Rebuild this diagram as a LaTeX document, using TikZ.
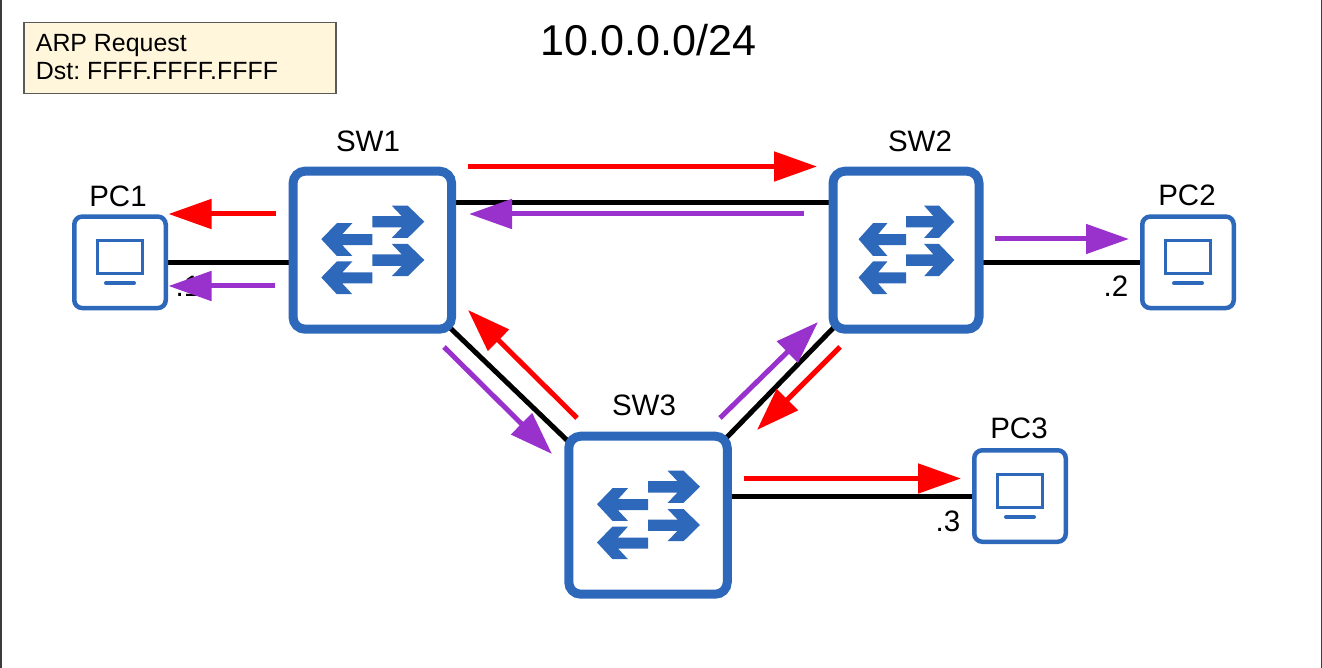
\documentclass[tikz,border=0pt]{standalone}
\usepackage{fontspec}
\setmainfont{Liberation Sans}
\usetikzlibrary{arrows.meta,backgrounds}
\definecolor{swblue}{HTML}{2E68BA}
\definecolor{notefill}{HTML}{FFF6DC}
\definecolor{notedraw}{HTML}{5A5A5A}
\definecolor{framec}{HTML}{3C3C3C}
\definecolor{redflow}{HTML}{FF0000}
\definecolor{purpleflow}{HTML}{9932CC}
\tikzset{
  x=1pt,y=-1pt,
  sw/.style={draw=swblue,line width=9pt,fill=white,rounded corners=12pt,inner sep=0pt,minimum height=158pt},
  pc/.style={draw=swblue,line width=4.5pt,fill=white,rounded corners=8pt,inner sep=0pt,minimum width=91.5pt,minimum height=91.5pt},
  lbl/.style={font=\fontsize{29.5}{32}\selectfont,inner sep=0pt,text=black},
  addr/.style={font=\fontsize{29.5}{32}\selectfont,inner sep=0pt,text=black},
  link/.style={draw=black,line width=5pt},
  flow/.style={line width=5pt,-{Triangle[length=43pt,width=29pt]}},
  redf/.style={flow,draw=redflow,color=redflow},
  purplef/.style={flow,draw=purpleflow,color=purpleflow},
  pics/swicon/.style={code={
    \foreach \d in {0,38.3}{
      \fill[swblue] (-51,-11+\d) -- (-35.5,-27+\d) -- (-20,-27+\d) -- (-30,-16+\d) -- (0,-16+\d) -- (0,-5+\d) -- (-30,-5+\d) -- (-20,5.7+\d) -- (-35.5,5.7+\d) -- cycle;
      \fill[swblue] (52,-28.5+\d) -- (35.5,-44.5+\d) -- (19.5,-44.5+\d) -- (29.5,-34+\d) -- (0,-34+\d) -- (0,-22.7+\d) -- (29.5,-22.7+\d) -- (19.5,-12.3+\d) -- (35.5,-12.3+\d) -- cycle;
    }
  }},
  pics/pcicon/.style={code={
    \draw[swblue,line width=3pt] (-22.7,-21.8) rectangle (22.7,11.5);
    \draw[swblue,line width=4pt,line cap=round] (-14,21) -- (14,21);
  }}
}
\begin{document}
\frenchspacing
\begin{tikzpicture}
\useasboundingbox (0,0) rectangle (1322,668);
\draw[framec,line width=1.6pt] (0.7,0) -- (0.7,668);
\draw[framec,line width=1.6pt] (1321.3,0) -- (1321.3,668);
% devices
\node[sw,minimum width=158.5pt] (sw1) at (372.3,250.2) {};
\node[sw,minimum width=146pt] (sw2) at (906,250.2) {};
\node[sw,minimum width=158.5pt] (sw3) at (648,515.2) {};
\node[pc] (pc1) at (120,262.3) {};
\node[pc] (pc2) at (1188,262.3) {};
\node[pc] (pc3) at (1020,496) {};
\pic at (sw1) {swicon};
\pic[xscale=0.93] at (sw2) {swicon};
\pic at (sw3) {swicon};
\pic at (pc1) {pcicon};
\pic at (pc2) {pcicon};
\pic at (pc3) {pcicon};
% links
\begin{scope}[on background layer]
\draw[link] (sw1 |- pc1) -- (pc1);
\draw[link] (sw1.center |- 0,202.5) -- (sw2.center |- 0,202.5);
\draw[link] (sw2 |- pc2) -- (pc2);
\draw[link] ([xshift=-3pt]sw1.center) -- ([xshift=-3pt]sw3.center);
\draw[link] ([xshift=3pt]sw2.center) -- ([xshift=3pt]sw3.center);
\draw[link] (sw3 |- pc3) -- (pc3);
\end{scope}
% labels
\node[lbl] (lpc1) at (118,196) {PC1};
\node[lbl] (lsw1) at (368,141) {SW1};
\node[lbl] (lsw2) at (920,141) {SW2};
\node[lbl] (lpc2) at (1187,195) {PC2};
\node[lbl] (lsw3) at (644,405) {SW3};
\node[lbl] (lpc3) at (1019,428) {PC3};
\node[addr] (a1) at (188,286) {.1};
\node[addr] (a2) at (1116,286) {.2};
\node[addr] (a3) at (948,521) {.3};
\node[font=\fontsize{43.1}{46}\selectfont,inner sep=0pt] (title) at (648.8,40.5) {10.0.0.0/24};
\node[draw=notedraw,fill=notefill,line width=1.2pt,minimum width=312pt,minimum height=71.5pt,inner sep=0pt] (note) at (180,58) {};
\node[anchor=west,inner sep=0pt,font=\fontsize{24.9}{27.5}\selectfont,align=left] (notetext) at (35.7,57) {ARP Request\\Dst: FFFF.FFFF.FFFF};
% flow arrows
\coordinate (r1s) at (468,166.5); \coordinate (r1e) at (817,166.5);
\coordinate (p1s) at (804,214); \coordinate (p1e) at (469,214);
\coordinate (p2s) at (995,239); \coordinate (p2e) at (1129,239);
\coordinate (r2s) at (276,214); \coordinate (r2e) at (168.5,214);
\coordinate (p3s) at (275,286); \coordinate (p3e) at (168.5,286);
\coordinate (r3s) at (577,418); \coordinate (r3e) at (468,310);
\coordinate (p4s) at (444,347); \coordinate (p4e) at (552,454);
\coordinate (p5s) at (720,418); \coordinate (p5e) at (818,322);
\coordinate (r4s) at (840,347); \coordinate (r4e) at (757,430);
\coordinate (r5s) at (744,478.5); \coordinate (r5e) at (961,478.5);
\draw[redf] (r1s) -- (r1e);
\draw[purplef] (p1s) -- (p1e);
\draw[purplef] (p2s) -- (p2e);
\draw[redf] (r2s) -- (r2e);
\draw[purplef] (p3s) -- (p3e);
\draw[redf] (r3s) -- (r3e);
\draw[purplef] (p4s) -- (p4e);
\draw[purplef] (p5s) -- (p5e);
\draw[redf] (r4s) -- (r4e);
\draw[redf] (r5s) -- (r5e);
\end{tikzpicture}
\end{document}
